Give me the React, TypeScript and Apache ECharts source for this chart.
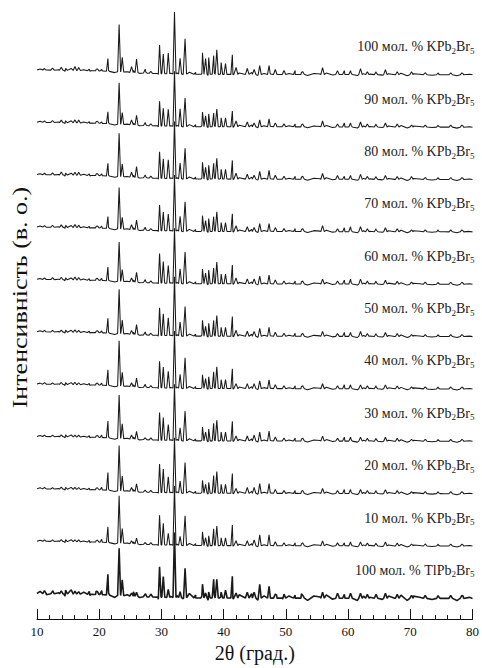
import React, { useEffect, useRef } from "react";
import * as echarts from "echarts";

// ---- axis ----
const X_MIN = 10;
const X_MAX = 80;
const X_STEP = 10;

// ---- reflection positions (2θ, degrees) ----
const MAIN_PEAKS = [21.4, 23.2, 23.7, 26.0, 29.7, 30.3, 31.1, 32.1, 33.0, 33.8, 36.6, 37.1, 37.6, 38.4, 38.9, 39.6, 40.3, 41.4, 45.8, 47.3];
const MINOR_PEAKS = [11.2, 12.5, 13.9, 14.6, 16.1, 16.7, 18.4, 19.7, 20.4, 25.2, 27.4, 28.3, 35.5, 42.0, 43.8, 44.9, 48.3, 49.7, 51.5, 52.7, 55.9, 58.3, 59.4, 60.4, 62.0, 63.1, 64.5, 66.0, 67.9, 70.2, 72.4, 74.5, 76.5, 78.3];

// ---- background wiggle (2θ, a.u.) ----
const TEXTURE_2THETA = [
  10.5, 11.5, 12.5, 13.5, 14.5, 15.5, 16.5, 17.5, 18.5, 19.5,
  20.5, 21.5, 22.5, 23.5, 24.5, 25.5, 26.5, 27.5, 28.5, 29.5,
  30.5, 31.5, 32.5, 33.5, 34.5, 35.5, 36.5, 37.5, 38.5, 39.5,
  40.5, 41.5, 42.5, 43.5, 44.5, 45.5, 46.5, 47.5, 48.5, 49.5,
  50.5, 51.5, 52.5, 53.5, 54.5, 55.5, 56.5, 57.5, 58.5, 59.5,
  60.5, 61.5, 62.5, 63.5, 64.5, 65.5, 66.5, 67.5, 68.5, 69.5,
  70.5, 71.5, 72.5, 73.5, 74.5, 75.5, 76.5, 77.5, 78.5, 79.5,
];
const TEXTURE_H = [
  1, -0.5, 1.5, 0.5, -1, 2, 0.5, 1, -0.5, 1.5,
  0, 1, -1, 1.5, 0.5, 2, -0.5, 1, 0.5, -1,
  1.5, 0.5, 1, -0.5, 2, 0, 1, -1, 1.5, 0.5,
  1, -0.5, 1.5, 0, 2, -1, 1, 0.5, 1.5, -0.5,
  1, 0, 2, -1, 1, 0.5, 1.5, -0.5, 1, 0,
  1.5, -1, 1, 0.5, 2, -0.5, 1, 0, 1.5, -1,
  1, 0.5, 1.5, -0.5, 1, 0, 1.5, -1, 1, 0.5,
];

// ---- background level (a.u.) ----
const BG_2THETA = [10, 20, 28, 35, 80];
const BG_LEVEL = [5, 4, 1.5, 0.5, 0];

// ---- sample labels (top to bottom) ----
const SAMPLE_PERCENT = ["100", "90", "80", "70", "60", "50", "40", "30", "20", "10", "100"];
const SAMPLE_CATION = ["K", "K", "K", "K", "K", "K", "K", "K", "K", "K", "Tl"];
const SAMPLE_NOISE = [1, 1, 1, 1, 1, 1, 1, 1, 1, 1, 2.2];

// ---- main reflection intensities per sample (a.u.) ----
const MAIN_K100 = [13, 48, 15, 14, 29, 20, 21, 63, 16, 36, 22, 16, 17, 19, 25, 12, 11, 20, 9, 9];
const MAIN_K90 = [12, 42, 12, 10, 25, 18, 17, 56, 18, 29, 15, 11, 13, 14, 18, 9, 9, 16, 7, 8];
const MAIN_K80 = [13, 44, 13, 11, 27, 20, 19, 58, 16, 31, 17, 12, 14, 16, 21, 10, 10, 19, 8, 9];
const MAIN_K70 = [12, 42, 12, 10, 26, 19, 17, 57, 15, 30, 16, 11, 13, 15, 20, 9, 9, 18, 8, 8];
const MAIN_K60 = [14, 40, 12, 10, 30, 22, 18, 56, 15, 32, 15, 11, 14, 16, 22, 10, 10, 19, 8, 9];
const MAIN_K50 = [15, 45, 14, 10, 28, 22, 18, 60, 14, 30, 16, 10, 13, 16, 21, 9, 9, 20, 8, 9];
const MAIN_K40 = [16, 46, 14, 9, 27, 21, 17, 58, 14, 31, 14, 10, 12, 17, 22, 9, 9, 20, 8, 9];
const MAIN_K30 = [17, 44, 15, 8, 28, 23, 16, 57, 13, 30, 14, 9, 12, 18, 21, 9, 9, 20, 9, 10];
const MAIN_K20 = [18, 46, 15, 8, 29, 24, 16, 56, 12, 31, 13, 9, 11, 18, 22, 9, 9, 20, 10, 10];
const MAIN_K10 = [16, 48, 15, 6, 30, 22, 12, 60, 9, 30, 14, 8, 10, 17, 20, 8, 8, 21, 11, 11];
const MAIN_TL = [21, 48, 16, 4, 31, 21, 8, 66, 6, 30, 14, 5, 6, 19, 19, 6, 8, 22, 14, 12];

// ---- minor reflection intensities per sample (a.u.) ----
const MINOR_K100 = [1.5, 2, 3, 2, 4, 3, 1.5, 2, 1.5, 6, 4, 2, 2, 7, 6, 5, 5, 4, 4, 3, 7, 4, 4, 4, 6, 3, 3, 5, 3, 3, 2, 2, 2, 2];
const MINOR_K90 = [1.5, 2, 2.5, 2, 3, 3, 1.5, 2, 1.5, 5, 3, 2, 2, 6, 5, 4, 4, 3, 3, 3, 6, 3, 4, 4, 5, 3, 3, 4, 3, 2, 2, 2, 2, 2];
const MINOR_K80 = [1.5, 2, 3, 2, 3, 3, 1.5, 2, 2, 5, 3, 2, 2, 6, 5, 4, 4, 3, 3, 3, 6, 4, 3, 4, 5, 3, 3, 4, 3, 3, 2, 2, 2, 2];
const MINOR_K70 = [1.5, 2, 2.5, 2, 3, 2.5, 1.5, 2, 2, 5, 3, 2, 2, 6, 5, 4, 4, 3, 3, 3, 6, 3, 4, 5, 5, 3, 3, 4, 3, 2, 2, 2, 2, 2];
const MINOR_K60 = [1.5, 2, 2.5, 2, 3, 2.5, 1.5, 2, 2, 4, 3, 2, 2, 6, 5, 5, 4, 3, 3, 3, 5, 3, 4, 5, 5, 3, 3, 4, 3, 2, 2, 2, 2, 2];
const MINOR_K50 = [1.5, 1.5, 2, 2, 2.5, 2, 1.5, 2, 2, 4, 3, 2, 2, 6, 5, 5, 4, 3, 3, 3, 5, 3, 4, 4, 5, 3, 3, 4, 3, 2, 2, 2, 2, 2];
const MINOR_K40 = [1.5, 1.5, 2, 2, 2.5, 2, 1.5, 2, 2, 4, 3, 2, 2, 5, 5, 5, 4, 3, 3, 3, 5, 3, 4, 4, 4, 3, 3, 4, 3, 2, 2, 2, 2, 2];
const MINOR_K30 = [1.5, 1.5, 2, 2, 2, 2, 1.5, 2, 2.5, 4, 2, 2, 2, 5, 5, 6, 4, 3, 3, 3, 5, 3, 4, 4, 4, 3, 3, 4, 3, 2, 2, 2, 2, 2];
const MINOR_K20 = [1.5, 1.5, 2, 2, 2, 2, 1.5, 2, 2.5, 4, 2, 2, 2, 5, 6, 6, 4, 3, 3, 3, 5, 3, 4, 4, 4, 3, 3, 4, 3, 2, 2, 2, 2, 2];
const MINOR_K10 = [1.5, 1.5, 2, 2, 2, 2, 1.5, 2, 3, 3, 2, 2, 2, 5, 5, 6, 4, 3, 3, 3, 5, 3, 3, 4, 4, 3, 3, 4, 3, 2, 2, 2, 2, 2];
const MINOR_TL = [3, 2.5, 3, 4, 3, 2.5, 3, 3, 4, 3, 3, 3, 3, 5, 6, 6, 4, 4, 3, 3, 6, 5, 4, 5, 5, 4, 4, 5, 4, 3, 3, 3, 3, 3];

const MAIN_SETS = [MAIN_K100, MAIN_K90, MAIN_K80, MAIN_K70, MAIN_K60, MAIN_K50, MAIN_K40, MAIN_K30, MAIN_K20, MAIN_K10, MAIN_TL];
const MINOR_SETS = [MINOR_K100, MINOR_K90, MINOR_K80, MINOR_K70, MINOR_K60, MINOR_K50, MINOR_K40, MINOR_K30, MINOR_K20, MINOR_K10, MINOR_TL];

// stacking
const BOTTOM_BASE = 21;
const TRACE_OFFSET = 53.2;
const Y_MAX = 629;

function bg(x: number): number {
  for (let i = 0; i < BG_2THETA.length - 1; i++) {
    const a = BG_2THETA[i], b = BG_2THETA[i + 1];
    if (x >= a && x <= b) {
      const t = (x - a) / (b - a);
      return BG_LEVEL[i] + t * (BG_LEVEL[i + 1] - BG_LEVEL[i]);
    }
  }
  return 0;
}

function buildTrace(main: number[], minor: number[], noise: number, base: number): number[][] {
  const pts: number[][] = [];
  const add = (x: number, h: number) => pts.push([x, base + bg(x) + h]);
  add(X_MIN, 0);
  add(X_MAX, 0);
  MAIN_PEAKS.forEach((p, i) => {
    add(p - 0.24, 0);
    add(p, main[i]);
    add(p + 0.24, 0);
  });
  MINOR_PEAKS.forEach((p, i) => {
    add(p - 0.28, 0);
    add(p, minor[i]);
    add(p + 0.28, 0);
  });
  TEXTURE_2THETA.forEach((p, i) => add(p, TEXTURE_H[i] * noise));
  pts.sort((a, b) => a[0] - b[0]);
  return pts;
}

const FONT = "'Liberation Serif', 'Times New Roman', serif";

export default function App() {
  const ref = useRef<HTMLDivElement>(null);

  useEffect(() => {
    if (!ref.current) return;
    const chart = echarts.init(ref.current, null, { renderer: "svg" });
    const n = MAIN_SETS.length;
    const bases = MAIN_SETS.map((_, k) => BOTTOM_BASE + TRACE_OFFSET * (n - 1 - k));

    const series = MAIN_SETS.map((main, k) => ({
      type: "line",
      name: SAMPLE_PERCENT[k] + SAMPLE_CATION[k],
      data: buildTrace(main, MINOR_SETS[k], SAMPLE_NOISE[k], bases[k]),
      showSymbol: false,
      symbol: "none",
      silent: true,
      lineStyle: { color: "#1a1a1a", width: SAMPLE_CATION[k] === "Tl" ? 1.6 : 1.05 },
    }));

    chart.setOption({
      animation: false,
      backgroundColor: "#ffffff",
      grid: { left: 37, right: 7, top: 0, bottom: 39 },
      xAxis: {
        type: "value",
        min: X_MIN,
        max: X_MAX,
        interval: X_STEP,
        name: "2θ (град.)",
        nameLocation: "middle",
        nameGap: 20,
        nameTextStyle: { fontFamily: FONT, fontSize: 20, color: "#111" },
        axisLine: { lineStyle: { color: "#111", width: 1 } },
        axisTick: { inside: true, length: 10, lineStyle: { color: "#111" } },
        minorTick: { show: true, splitNumber: 5, length: 4, lineStyle: { color: "#111" } },
        axisLabel: { fontFamily: FONT, fontSize: 13, color: "#111", margin: 6 },
        splitLine: { show: false },
      },
      yAxis: {
        type: "value",
        min: 0,
        max: Y_MAX,
        show: false,
      },
      series,
    });

    const labels: any[] = bases.map((b, k) => {
      const [px, py] = chart.convertToPixel({ gridIndex: 0 }, [X_MAX, b]) as number[];
      const cation = SAMPLE_CATION[k] === "Tl" ? "TlPb" : "KPb";
      return {
        type: "text",
        x: px + 2,
        y: py - 28,
        silent: true,
        style: {
          text: `{n|${SAMPLE_PERCENT[k]} мол. % ${cation}}{s|2}{n|Br}{s|5}`,
          align: "right",
          verticalAlign: "middle",
          fill: "#222",
          rich: {
            n: { fontFamily: FONT, fontSize: 14, fill: "#222" },
            s: { fontFamily: FONT, fontSize: 9, fill: "#222", padding: [8, 0, 0, 0] },
          },
        },
      };
    });
    const [, midY] = chart.convertToPixel({ gridIndex: 0 }, [X_MIN, Y_MAX / 2]) as number[];
    labels.push({
      type: "text",
      x: 20,
      y: midY - 12,
      rotation: Math.PI / 2,
      scaleX: 1.3,
      silent: true,
      style: {
        text: "Інтенсивність (в. о.)",
        fontFamily: FONT,
        fontSize: 20,
        fill: "#111",
        align: "center",
        verticalAlign: "middle",
      },
    });
    chart.setOption({ graphic: labels });

    return () => chart.dispose();
  }, []);

  return (
    <div
      ref={ref}
      style={{ position: "absolute", left: 0, top: 0, width: 482, height: 668, background: "#fff" }}
    />
  );
}
